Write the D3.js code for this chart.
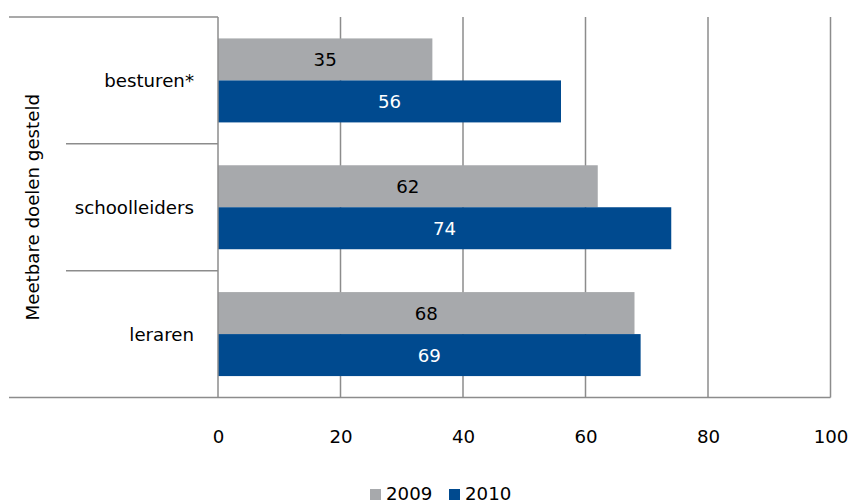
<!DOCTYPE html>
<html><head><meta charset="utf-8">
<script src="https://cdn.jsdelivr.net/npm/d3@7"></script>
<style>body{margin:0;background:#fff;}svg{display:block;}</style>
</head><body>
<svg id="c" width="849" height="504"></svg>
<script>
const categories = ["besturen*", "schoolleiders", "leraren"];
const series = ["2009", "2010"];
const values2009 = [35, 62, 68];
const values2010 = [56, 74, 69];
const xTicks = [0, 20, 40, 60, 80, 100];
const axisTitle = "Meetbare doelen gesteld";
const colors = {"2009": "#A7A9AC", "2010": "#004A8F"};

const font = "'DejaVu Sans', sans-serif";
const fs = 18.2;
const svg = d3.select("#c");
const L = 218, R = 830.5, T = 17, B = 397.5;
const x = d3.scaleLinear().domain([0, 100]).range([L, R]);
const y0 = d3.scaleBand().domain(categories).range([T, B]);
const y1 = d3.scaleBand().domain(series).range([0, y0.bandwidth()]).paddingOuter(0.51).paddingInner(0);

const grid = "#8c8c8c";
svg.append("g").selectAll("line").data(xTicks.slice(1)).join("line")
  .attr("x1", d => x(d)).attr("x2", d => x(d)).attr("y1", T).attr("y2", B)
  .attr("stroke", grid).attr("stroke-width", 1.5);

const data = [];
categories.forEach((c, i) => {
  data.push({c, s: "2009", v: values2009[i]});
  data.push({c, s: "2010", v: values2010[i]});
});
svg.append("g").selectAll("rect").data(data).join("rect")
  .attr("x", x(0)).attr("y", d => y0(d.c) + y1(d.s))
  .attr("width", d => x(d.v) - x(0)).attr("height", y1.bandwidth())
  .attr("fill", d => colors[d.s]);
svg.append("g").selectAll("text").data(data).join("text")
  .attr("x", d => (x(0) + x(d.v)) / 2).attr("y", d => y0(d.c) + y1(d.s) + y1.bandwidth() / 2)
  .attr("dy", "0.38em").attr("text-anchor", "middle")
  .attr("font-family", font).attr("font-size", fs)
  .attr("fill", d => d.s === "2010" ? "#fff" : "#000")
  .text(d => d.v);

svg.append("line").attr("x1", 9).attr("x2", R).attr("y1", B).attr("y2", B).attr("stroke", grid).attr("stroke-width", 1.5);
svg.append("line").attr("x1", 9).attr("x2", L).attr("y1", T).attr("y2", T).attr("stroke", grid).attr("stroke-width", 1.5);
svg.append("line").attr("x1", L).attr("x2", L).attr("y1", T).attr("y2", B).attr("stroke", grid).attr("stroke-width", 1.5);
svg.append("g").selectAll("line").data(categories.slice(1)).join("line")
  .attr("x1", 66).attr("x2", L).attr("y1", d => y0(d)).attr("y2", d => y0(d))
  .attr("stroke", grid).attr("stroke-width", 1.5);

const xa = svg.append("g").attr("transform", `translate(0,${B})`)
  .call(d3.axisBottom(x).tickValues(xTicks).tickSize(0).tickPadding(33));
xa.select(".domain").remove();
xa.selectAll("text").attr("font-family", font).attr("font-size", fs).attr("fill", "#000");

svg.append("g").selectAll("text").data(categories).join("text")
  .attr("x", 194).attr("y", d => y0(d) + y0.bandwidth() / 2).attr("dy", "0.36em")
  .attr("text-anchor", "end").attr("font-family", font).attr("font-size", fs).attr("fill", "#000")
  .text(d => d);

svg.append("text").attr("transform", `translate(39,${(T + B) / 2}) rotate(-90)`)
  .attr("text-anchor", "middle").attr("font-family", font).attr("font-size", fs).attr("fill", "#000")
  .text(axisTitle);

const lg = svg.append("g").attr("transform", "translate(370,493)");
const items = [{s: "2009", x: 0}, {s: "2010", x: 79}];
items.forEach(it => {
  lg.append("rect").attr("x", it.x).attr("y", -4).attr("width", 11).attr("height", 11).attr("fill", colors[it.s]);
  lg.append("text").attr("x", it.x + 16).attr("y", 0).attr("dy", "0.36em")
    .attr("font-family", font).attr("font-size", fs).attr("fill", "#000").text(it.s);
});
</script>
</body></html>
